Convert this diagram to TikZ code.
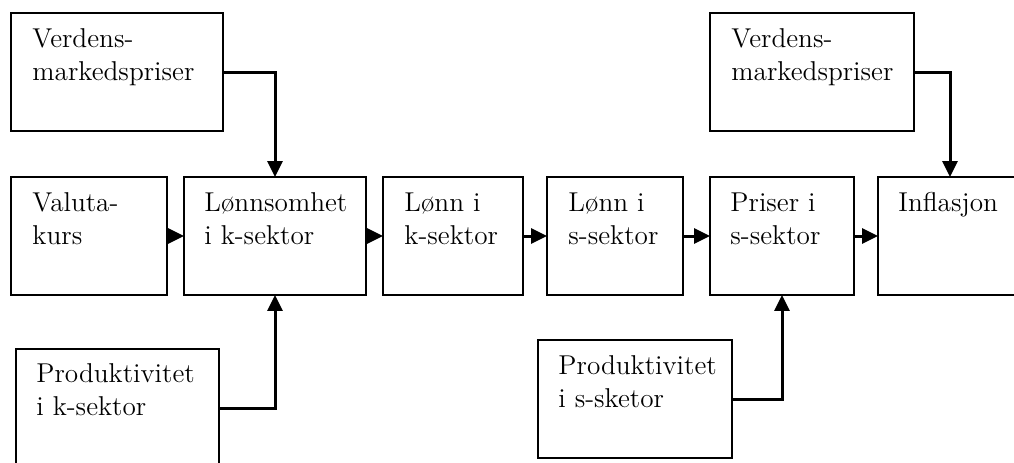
\documentclass[tikz,border=0pt]{standalone}
\usetikzlibrary{arrows.meta}
\begin{document}
\begin{tikzpicture}[x=0.433pt, y=-0.433pt,
	box/.style={draw, line width=0.9pt, inner sep=0pt, outer sep=0pt, anchor=north west, minimum height=118*0.433pt},
	txt/.style={anchor=north west, inner sep=0pt, align=left, font=\fontsize{11.8}{14.3}\selectfont},
	conn/.style={line width=1.3pt, -{Triangle[length=6.9pt, width=6.5pt]}}]
	
	\useasboundingbox (0, 0) rectangle (1014, 462);
	\clip (0, 0) rectangle (1014, 462);
	
	% boxes
	\node [box, minimum width=212*0.433pt] (vm1) at (11, 13) {};
	\node [box, minimum width=204*0.433pt] (vm2) at (710, 13) {};
	\node [box, minimum width=156*0.433pt] (valuta) at (11, 177) {};
	\node [box, minimum width=182*0.433pt] (lonnsomhet) at (184, 177) {};
	\node [box, minimum width=140*0.433pt] (lonnk) at (383, 177) {};
	\node [box, minimum width=136*0.433pt] (lonns) at (547, 177) {};
	\node [box, minimum width=144*0.433pt] (priser) at (710, 177) {};
	\node [box, minimum width=144*0.433pt] (inflasjon) at (878, 177) {};
	\node [box, minimum width=203*0.433pt] (prodk) at (16, 349) {};
	\node [box, minimum width=194*0.433pt] (prods) at (538, 340) {};
	
	% texts
	\node [txt] (vm1txt) at ([shift={(21, 15)}]vm1.north west) {Verdens-\\markedspriser};
	\node [txt] (vm2txt) at ([shift={(21, 15)}]vm2.north west) {Verdens-\\markedspriser};
	\node [txt] (valutatxt) at ([shift={(21, 15)}]valuta.north west) {Valuta-\\kurs};
	\node [txt] (lonnsomhettxt) at ([shift={(20, 15)}]lonnsomhet.north west) {Lønnsomhet\\i k-sektor};
	\node [txt] (lonnktxt) at ([shift={(21, 15)}]lonnk.north west) {Lønn i\\k-sektor};
	\node [txt] (lonnstxt) at ([shift={(21, 15)}]lonns.north west) {Lønn i\\s-sektor};
	\node [txt] (prisertxt) at ([shift={(20, 15)}]priser.north west) {Priser i\\s-sektor};
	\node [txt] (inflasjontxt) at ([shift={(20, 15)}]inflasjon.north west) {Inflasjon};
	\node [txt] (prodktxt) at ([shift={(20, 14)}]prodk.north west) {Produktivitet\\i k-sektor};
	\node [txt] (prodstxt) at ([shift={(20, 15)}]prods.north west) {Produktivitet\\i s-sketor};
	
	% connectors
	\draw [conn] (valuta.east) -- (lonnsomhet.west);
	\draw [conn] (lonnsomhet.east) -- (lonnk.west);
	\draw [conn] (lonnk.east) -- (lonns.west);
	\draw [conn] (lonns.east) -- (priser.west);
	\draw [conn] (priser.east) -- (inflasjon.west);
	
	\draw [conn] (vm1.east) -| (lonnsomhet.north);
	\draw [conn] (prodk.east) -| (lonnsomhet.south);
	\draw [conn] (vm2.east) -| (inflasjon.north);
	\draw [conn] (prods.east) -| (priser.south);
	
\end{tikzpicture}
\end{document}
